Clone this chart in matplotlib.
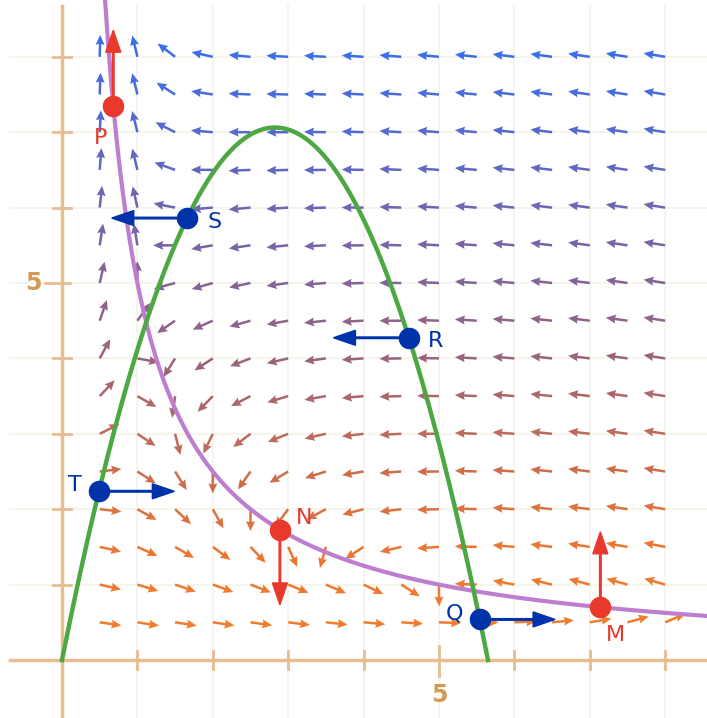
import numpy as np
import matplotlib
matplotlib.use('Agg')
import matplotlib.pyplot as plt

# system:  x' = x (K - x y),   y' = C y (y - (A x - B x^2))
K = 5.0
A = 5.0
B = 0.885
C = 0.4

grid_x = [0.5, 1.0, 1.5, 2.0, 2.5, 3.0, 3.5, 4.0, 4.5, 5.0, 5.5, 6.0, 6.5, 7.0, 7.5, 8.0]
grid_y = [0.5, 1.0, 1.5, 2.0, 2.5, 3.0, 3.5, 4.0, 4.5, 5.0, 5.5, 6.0, 6.5, 7.0, 7.5, 8.0]

# points on the x-nullcline (vertical motion) and on the y-nullcline (horizontal motion)
red_names = ['P', 'N', 'M']
red_x = [0.68, 2.89, 7.14]
red_dir = [(0, 1), (0, -1), (0, 1)]

blue_names = ['S', 'R', 'T', 'Q']
blue_x = [1.66, 4.60, 0.49, 5.54]
blue_dir = [(-1, 0), (-1, 0), (1, 0), (1, 0)]

# label offsets in pixels (right, down)
label_off = {'P': (-13, 32), 'N': (24, -12), 'M': (15, 28),
             'S': (27, 4), 'R': (27, 3), 'T': (-24, -6), 'Q': (-25, -6)}

RED = '#E8392C'
BLUE = '#0033AA'
AXIS = '#E6BE90'
TICKTXT = '#D39A55'
GRID = '#F5F5EC'


def hyper(x):
    return K / np.asarray(x, dtype=float)


def para(x):
    x = np.asarray(x, dtype=float)
    return A * x - B * x ** 2


# row colour stops (y -> rgb)
stop_y = [0.5, 1.5, 2.5, 4.0, 5.5, 8.0]
stop_rgb = np.array([(240, 125, 45), (235, 118, 50), (205, 110, 75),
                     (155, 100, 125), (120, 100, 165), (60, 110, 235)]) / 255.0

fig = plt.figure(figsize=(7.07, 7.18), dpi=100)
ax = fig.add_axes([0, 0, 1, 1])
ax.set_xlim(-62 / 75.4, (707 - 62) / 75.4)
ax.set_ylim(-(718 - 660) / 75.4, 660 / 75.4)
ax.axis('off')

px = 1 / 75.4  # one pixel in data units

# faint grid
for v in range(1, 9):
    ax.plot([v, v], [-0.8, 8.67], color=GRID, lw=1.5, zorder=0)
    ax.plot([-0.69, 8.6], [v, v], color=GRID, lw=1.5, zorder=0)

# axes and ticks
ax.plot([-0.69, 8.6], [0, 0], color=AXIS, lw=2.5, zorder=1)
ax.plot([0, 0], [-0.8, 8.67], color=AXIS, lw=2.5, zorder=1)
for v in range(1, 9):
    lo, hi = (16 * px, 14 * px) if v == 5 else (9 * px, 9 * px)
    ax.plot([v, v], [-lo, hi], color=AXIS, lw=2, zorder=1)
    lo, hi = (17 * px, 8 * px) if v == 5 else (9 * px, 9 * px)
    ax.plot([-lo, hi], [v, v], color=AXIS, lw=2, zorder=1)
ax.text(5, -35 * px, '5', color=TICKTXT, fontsize=17, fontweight='semibold',
        ha='center', va='center')
ax.text(-29 * px, 5, '5', color=TICKTXT, fontsize=17, fontweight='semibold',
        ha='center', va='center')

# direction field, unit-length arrows coloured by height
X, Y = np.meshgrid(grid_x, grid_y)
U = X * (K - X * Y)
V = C * Y * (Y - para(X))
L = np.hypot(U, V)
arrow_len = 0.29
U = U / L * arrow_len
V = V / L * arrow_len
cols = np.column_stack([np.interp(Y.ravel(), stop_y, stop_rgb[:, i]) for i in range(3)])
ax.quiver(X, Y, U, V, color=cols, angles='xy', scale_units='xy', scale=1,
          pivot='tail', units='xy', width=2.5 * px, headwidth=3.6,
          headlength=4.0, headaxislength=3.6, zorder=2)

# nullclines
xh = np.linspace(0.55, 8.6, 400)
ax.plot(xh, hyper(xh), color='#BE7ED0', lw=3, zorder=3)
xp = np.linspace(0, A / B, 400)
ax.plot(xp, para(xp), color='#4DA844', lw=3.2, zorder=3)

# marked points with their motion arrows
for name, x0, (dx, dy) in zip(red_names, red_x, red_dir):
    y0 = float(hyper(x0))
    ax.arrow(x0, y0, dx, dy, width=1.6 * px, head_width=15 * px, head_length=22 * px,
             length_includes_head=True, color=RED, zorder=4)
    ax.plot(x0, y0, 'o', ms=14.5, color=RED, zorder=5)
    ox, oy = label_off[name]
    ax.annotate(name, (x0, y0), xytext=(ox * 0.72, -oy * 0.72), textcoords='offset points',
                ha='center', va='center', color=RED, fontsize=16, zorder=6)

for name, x0, (dx, dy) in zip(blue_names, blue_x, blue_dir):
    y0 = float(para(x0))
    ax.arrow(x0, y0, dx, dy, width=1.6 * px, head_width=15 * px, head_length=22 * px,
             length_includes_head=True, color=BLUE, zorder=4)
    ax.plot(x0, y0, 'o', ms=14.5, color=BLUE, zorder=5)
    ox, oy = label_off[name]
    ax.annotate(name, (x0, y0), xytext=(ox * 0.72, -oy * 0.72), textcoords='offset points',
                ha='center', va='center', color=BLUE, fontsize=16, zorder=6)

fig.savefig('out.png', dpi=100)
